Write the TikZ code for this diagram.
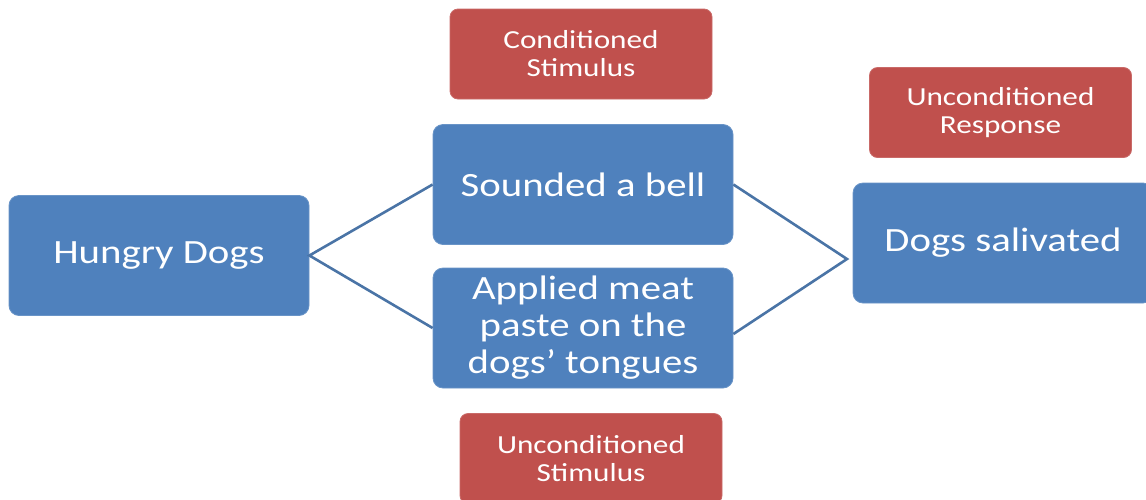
\documentclass[tikz,border=0pt]{standalone}
\usepackage{fontspec}
\setmainfont{Carlito}[FakeStretch=1.2]
\usetikzlibrary{calc}
\definecolor{boxblue}{HTML}{4F81BD}
\definecolor{boxred}{HTML}{C0504D}
\definecolor{linkblue}{HTML}{4A74A6}
\tikzset{
	bluebox/.style={fill=boxblue, draw=boxblue!85!white, line width=0.8pt, rounded corners=10pt, minimum width=300pt, minimum height=120pt, inner sep=0pt, align=center, text=white, font=\fontsize{34}{37}\selectfont},
	redbox/.style={fill=boxred, draw=boxred!85!white, line width=0.8pt, rounded corners=8pt, minimum width=262pt, minimum height=90pt, inner sep=0pt, align=center, text=white, font=\fontsize{26}{28}\selectfont},
	link/.style={draw=linkblue, line width=2.6pt}
}

\begin{document}
\begin{tikzpicture}[x=1pt, y=-1pt]
		%%%%% START %%%%%
		
		\clip (0, 0) rectangle (1146, 499);
		
		\node[redbox] (condstim) at (581, 54) {Conditioned\\Stimulus};
		\node[redbox] (uncondresp) at (1000.5, 112.5) {Unconditioned\\Response};
		\node[redbox] (uncondstim) at (591, 458.5) {Unconditioned\\Stimulus};
		
		\node[bluebox] (hungry) at (159, 255.5) {Hungry Dogs};
		\node[bluebox] (bell) at (583, 184.5) {Sounded a bell};
		\node[bluebox] (paste) at (583, 328) {Applied meat\\paste on the\\dogs’ tongues};
		\node[bluebox] (salivated) at (1003, 243) {Dogs salivated};
		
		\coordinate (tip) at (847, 259);
		
		\draw[link] (bell.west) -- (hungry.east) -- (paste.west);
		\draw[link] (bell.east) -- (tip) -- ([yshift=-6]paste.east);
		
		%%%%% END %%%%%
	\end{tikzpicture}
\end{document}
